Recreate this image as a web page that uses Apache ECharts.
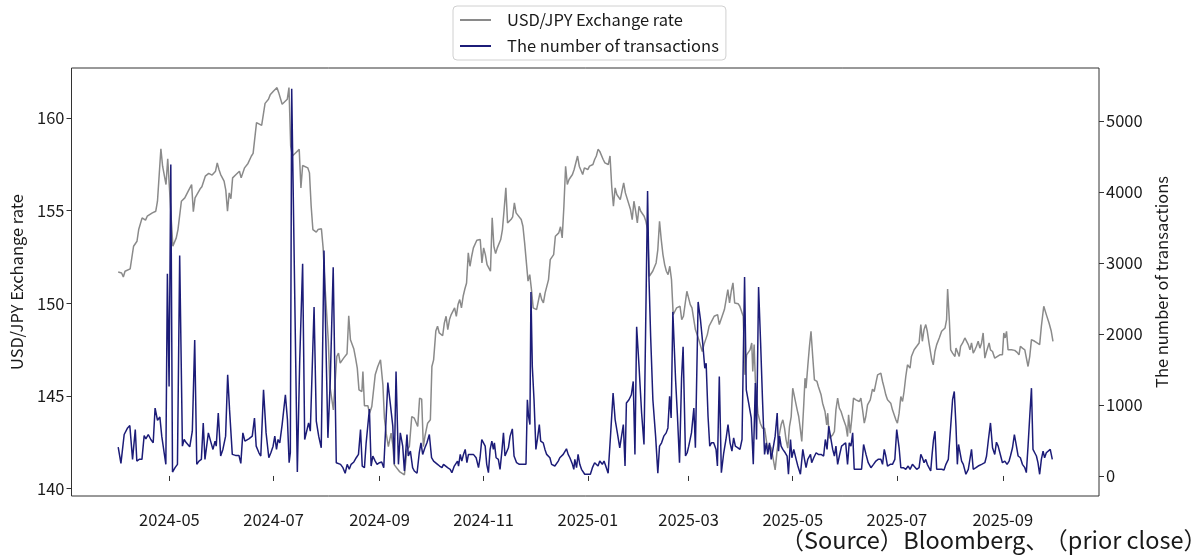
<!DOCTYPE html>
<html>
<head>
<meta charset="utf-8">
<script src="https://cdn.jsdelivr.net/npm/echarts@6/dist/echarts.min.js"></script>
<style>
html,body{margin:0;padding:0;background:#fff;}
#chart{width:1204px;height:558px;}
</style>
</head>
<body>
<div id="chart"></div>
<script>
// Day offsets are counted from 2024-04-01 (calendar days).
const baseDate = '2024-04-01';
const seriesNames = ['USD/JPY Exchange rate', 'The number of transactions'];
const monthTicks = ['2024-05-01','2024-07-01','2024-09-01','2024-11-01','2025-01-01','2025-03-01','2025-05-01','2025-07-01','2025-09-01'];
const rateTicks = [140, 145, 150, 155, 160];
const tradeTicks = [0, 1000, 2000, 3000, 4000, 5000];

// [day offset, USD/JPY rate]
const usdJpyRate = [
[0,151.69],[2,151.64],[3,151.42],[4,151.73],[7,151.86],[9,153.08],[11,153.35],[12,153.98],[14,154.61],[16,154.49],
[17,154.70],[20,154.88],[22,154.97],[23,155.51],[25,158.34],[26,157.40],[28,156.41],[29,157.80],[32,153.08],[34,153.53],
[35,153.98],[37,155.51],[39,155.69],[41,156.05],[43,156.41],[44,154.94],[45,155.69],[48,156.18],[49,156.29],[51,156.86],
[53,157.01],[55,156.92],[57,157.13],[58,157.58],[59,157.22],[60,156.95],[62,156.59],[63,156.11],[64,154.97],[65,155.96],
[66,155.64],[67,156.77],[69,156.95],[71,157.13],[72,156.77],[74,157.31],[76,157.55],[78,157.95],[79,158.09],[81,159.75],
[82,159.69],[84,159.60],[86,160.79],[88,161.01],[89,161.25],[91,161.46],[93,161.64],[94,161.37],[96,160.74],[97,160.77],
[99,161.01],[100,161.64],[101,158.49],[102,157.95],[104,158.13],[106,158.31],[107,156.23],[108,157.44],[109,157.49],[111,157.31],
[112,157.04],[113,155.24],[114,153.98],[116,153.84],[117,153.98],[119,154.02],[120,152.99],[121,151.10],[123,148.03],[124,145.51],
[126,144.25],[127,145.69],[128,147.13],[129,147.31],[130,146.77],[132,147.04],[133,146.95],[134,147.28],[135,149.33],[136,148.03],
[138,147.53],[139,147.04],[140,146.50],[141,145.33],[142.7,145.24],[143.3,146.32],[144.2,144.47],[146.2,144.47],[147.2,144.07],[148.5,144.43],
[150.5,146.14],[152,146.59],[153.6,146.95],[155,145.60],[155.9,143.80],[156.9,142.99],[158.2,142.27],[159.8,142.99],[160.8,142.36],[161.7,141.28],
[164.7,140.92],[167.6,140.74],[169.1,142.09],[170.5,142.27],[171.9,143.89],[173.4,143.80],[175.4,143.35],[176.5,144.88],[177.7,144.83],[178.7,142.27],
[179.6,142.81],[181.2,143.53],[182.8,143.71],[183.7,146.59],[184.7,146.95],[186,148.5],[187,148.76],[188,148.40],[190,148.25],[191,148.94],
[192,149.30],[193,148.58],[194,149.12],[195,149.39],[196,149.48],[197,149.75],[198,149.30],[199,149.93],[200,150.20],[201,149.75],
[202,150.38],[203,150.77],[204,151.10],[205,152.72],[206,152.00],[207,152.54],[208,152.99],[210,153.40],[212,153.44],[213,152.18],
[214,152.99],[215,152.63],[216,152.09],[218,151.73],[219,154.61],[220,153.08],[221,152.68],[222,152.99],[224,153.44],[225,153.98],
[226,155.06],[227,156.23],[228,154.34],[230,154.52],[231,154.67],[232,155.42],[233,154.88],[234,154.79],[236,154.52],[237,154.16],
[238,153.26],[240,151.20],[241,151.55],[242,150.74],[243,149.75],[245,149.66],[246,149.57],[247,150.56],[248,150.20],[249,150.02],
[250,150.56],[252,151.28],[253,152.36],[255,152.63],[256,153.62],[258,153.80],[259,154.13],[260,153.53],[261,155.24],[262,157.40],
[263,156.41],[264,156.68],[266,156.95],[267,157.22],[269,157.95],[270,157.40],[272,156.95],[273,157.31],[275,157.22],[276,157.40],
[278,157.49],[279,157.76],[280,157.95],[281,158.31],[282,158.2],[284,157.76],[285,157.58],[287,157.49],[288,157.95],[289,156.32],
[290,155.24],[291,156.23],[292,155.87],[294,155.60],[295,155.51],[296,156.50],[297,155.96],[298,155.87],[300,155.06],[301,154.52],
[302,155.51],[303,154.97],[304,154.34],[305,155.24],[306,154.97],[308,154.70],[309,154.43],[310,153.98],[311,151.46],[313,151.73],
[315,152.18],[316,152.90],[317,154.43],[318,153.44],[319,152.63],[320,152.09],[321,151.73],[322,151.55],[323,152.00],[324,151.28],
[325,149.39],[326,149.57],[327,149.75],[329,149.84],[330,149.12],[331,149.30],[333,150.65],[334,150.29],[335,149.93],[336,149.75],
[337,149.80],[338,148.58],[340,148.04],[341,147.95],[342,147.40],[343,147.77],[344,148.04],[345,148.31],[346,148.76],[348,149.12],
[349,149.30],[351,149.39],[352,148.85],[353,148.94],[355,149.66],[356,150.20],[357,150.74],[358,150.02],[359,150.65],[360,151.10],
[361,150.02],[362,149.93],[363,149.98],[364,149.84],[366,149.30],[367,146.14],[368,147.22],[370,147.49],[371,147.86],[371.6,146.32],
[372.4,147.77],[373.1,145.87],[374.6,144.07],[376,143.53],[377.3,143.26],[378.5,143.26],[380.2,142.20],[381.4,142.36],[382.4,142.18],[384,141.37],
[384.7,141.01],[385.9,142.09],[387.3,142.99],[388.2,143.44],[389.2,143.71],[390.2,143.26],[391.1,142.63],[392.1,142.18],[393.1,143.35],[394.1,143.89],
[395,145.42],[396.4,144.79],[397.6,144.25],[398.5,143.89],[399.5,143.17],[400.3,142.54],[401.5,144.61],[402.2,145.96],[402.8,145.42],[403.8,146.59],
[404.8,147.68],[405.7,148.49],[406.7,147.13],[407.7,145.87],[409.2,145.78],[410,145.51],[411.6,145.06],[412.5,144.61],[413.9,144.16],[414.9,143.44],
[415.5,144.07],[416.4,142.72],[417.4,142.81],[418.4,142.90],[419.4,143.08],[420.3,144.25],[421.3,144.88],[422.3,144.34],[423.3,144.16],[424.8,143.71],
[426.2,143.35],[427.1,142.81],[427.7,143.98],[428.7,142.99],[429.5,143.71],[430.6,144.88],[432,144.79],[433,144.88],[434,144.70],[434.9,144.88],
[435.9,144.25],[436.9,143.53],[437.8,143.89],[438.8,144.52],[440.4,144.79],[441.7,145.37],[442.7,145.24],[443.7,145.69],[444.7,146.14],[446.6,146.23],
[447.6,145.78],[448.6,145.42],[449.5,145.06],[450.5,144.79],[451.5,144.70],[452.4,144.61],[453.4,144.25],[454.4,143.98],[455.4,143.71],[456.3,143.53],
[457.3,144.07],[458.3,144.97],[459.3,144.70],[460.2,145.24],[461.2,146.05],[462.2,146.68],[463.7,146.50],[464.5,147.13],[466.1,147.49],[467.6,147.68],
[469,147.86],[470,148.85],[470.9,147.95],[471.9,148.58],[472.9,148.85],[473.8,148.49],[474.8,147.86],[475.6,147.40],[476.4,146.95],[477.3,146.68],
[478.3,147.40],[479.3,147.77],[480.8,148.13],[482.2,148.49],[483.2,148.58],[484.2,148.67],[485.1,149.12],[485.7,150.77],[486.7,149.12],[487.5,147.49],
[488.6,147.31],[490,147.13],[490.6,147.58],[491.4,147.40],[492.5,147.13],[493.3,147.68],[494.5,147.86],[495.8,148.13],[496.8,148.22],[497.8,147.77],
[498.8,147.49],[499.7,147.86],[500.7,147.31],[501.7,147.49],[502.6,147.68],[503.6,147.95],[504.6,147.58],[505.6,147.86],[506.5,148.40],[507.5,147.04],
[508.5,147.40],[510,147.86],[510.8,147.49],[512,147.40],[513.3,147.04],[514.3,147.13],[516.3,147.22],[517.8,147.22],[518.6,148.40],[519.4,148.13],
[520.2,148.49],[521.1,147.49],[523.1,147.49],[525,147.46],[526.4,147.35],[527.5,147.22],[528.3,147.68],[529.5,147.58],[530.9,147.49],[531.8,147.40],
[532.8,146.59],[533.8,147.13],[534.8,148.04],[536.7,147.95],[538.1,147.86],[539.6,147.77],[540.6,148.76],[542,149.84],[543.5,149.39],[545.1,148.94],
[546.4,148.49],[547.4,147.95]
];

// [day offset, number of transactions]
const transactions = [
[0,406],[1.6,178],[3.5,584],[5.5,677],[6.8,710],[8.4,234],[9.4,210],[10,654],[10.9,210],[12.3,234],
[13.9,234],[15.2,570],[16.2,523],[17.6,584],[19.1,514],[20.5,467],[21.6,957],[23,785],[24.4,831],[25.5,561],
[26.9,327],[27.9,164],[28.8,2848],[29.8,1261],[30.8,4388],[31.8,56],[33.3,117],[34.7,164],[36,3105],[37.6,420],
[38.6,514],[39.9,467],[41.9,411],[43.4,631],[44.8,1914],[46,164],[47.3,210],[48.7,234],[49.8,747],[50.8,234],
[52.8,607],[54.1,491],[55.5,374],[56.7,491],[57.4,420],[58.6,887],[60,281],[61.3,374],[62.9,561],[64.1,1424],
[65.2,934],[66.8,304],[68.7,290],[70.7,290],[71.8,178],[73,607],[74.2,491],[76.5,523],[78.5,561],[79.8,817],
[80.8,420],[82.4,327],[83.5,281],[85.1,1214],[86.6,607],[88.2,257],[89.4,327],[90.7,420],[91.7,561],[92.7,374],
[93.6,514],[94.6,467],[96,724],[97.9,1144],[99.1,794],[100.1,187],[100.8,327],[101.6,5453],[104.9,56],[106.3,1634],
[108,2988],[109.2,514],[110.6,654],[111.5,747],[112.5,631],[114.7,2381],[116,771],[117.4,561],[118.9,397],[120.5,3175],
[122.8,537],[124.2,1354],[125.9,2941],[127.7,187],[128.7,210],[130.2,164],[131.6,117],[132.9,38],[134.1,164],[135.3,94],
[136.4,164],[138,197],[139.4,257],[140.7,304],[141.9,654],[142.9,140],[144.2,117],[145.2,467],[147.1,943],[148.1,140],
[149.1,281],[150.5,210],[151.6,164],[153,187],[154.3,197],[155.5,117],[156.9,817],[157.9,1317],[159.4,1004],[160.8,701],
[161.7,164],[162.7,1471],[164.1,164],[165.2,607],[166.6,420],[167.6,70],[169.1,584],[169.9,281],[171.1,350],[172.4,117],
[173.4,70],[175,38],[176.3,327],[177.3,467],[178.3,304],[179.6,397],[180.8,467],[182.2,584],[183.5,257],[184.7,210],
[185.7,234],[187,164],[188.2,140],[189.6,117],[190.5,164],[191.5,140],[192.9,117],[194.4,94],[195.4,47],[196.8,140],
[197.9,164],[198.7,210],[199.3,140],[200.3,304],[201.2,210],[202.2,304],[203.2,374],[204.2,187],[205.1,304],[206.5,304],
[208,304],[209.6,257],[211,117],[211.9,257],[212.9,514],[213.9,537],[214.9,420],[215.8,164],[216.8,47],[217.8,374],
[218.8,491],[219.7,374],[220.3,467],[221.3,257],[222.6,234],[223.6,94],[224.6,327],[225.6,607],[226.5,281],[227.5,304],
[228.5,397],[229.5,561],[230.8,663],[231.8,281],[233.3,187],[234.9,164],[236.3,164],[237.6,164],[238.8,164],[239.6,1074],
[240.3,841],[241.1,724],[241.7,2591],[242.5,1541],[243.5,1074],[244.6,374],[245.6,537],[246.6,724],[247.4,491],[248.9,467],
[249.9,374],[250.9,304],[252.8,257],[253.8,164],[255.7,140],[257.7,210],[258.6,257],[260.6,304],[261.6,327],[262.5,383],
[263.5,304],[264.5,257],[266,164],[266.8,94],[267.4,234],[268.4,117],[269.3,304],[270.3,164],[271.3,94],[273.2,24],
[275.2,24],[276.5,24],[277.7,117],[279,187],[280,210],[281,140],[282,210],[282.9,187],[283.5,164],[284.5,210],
[285.5,140],[286.9,38],[288.4,607],[289.8,1167],[291,794],[292.3,607],[293.7,397],[294.8,374],[295.8,724],[296.8,140],
[297.6,1027],[299.1,1074],[300.5,1144],[301.6,1331],[302.6,304],[303.6,2101],[305,1541],[306.5,887],[307.9,444],[310,4015],
[310.8,2801],[311.8,1961],[313.1,1074],[314.7,561],[316,38],[317,420],[318.2,467],[319.5,561],[320.9,607],[321.9,677],
[322.9,1121],[323.8,817],[324.8,2311],[326.4,1354],[327.5,841],[328.7,187],[329.9,1377],[330.8,1821],[332.2,281],[333.2,327],
[334.1,420],[335.7,607],[337.1,957],[338,397],[339.6,2451],[341,2194],[342.3,1868],[343.5,1518],[344.3,1587],[345.4,841],
[346.4,420],[347.4,467],[348.7,467],[350.1,374],[350.9,140],[352,1401],[353.2,47],[354.6,327],[355.9,514],[357.1,724],
[358.3,467],[359.4,350],[360.4,537],[361.4,420],[362.9,397],[364.1,374],[365.3,514],[366.1,491],[366.8,2801],[367.8,1214],
[369.2,1027],[370.7,817],[371.9,164],[373.1,1308],[373.8,514],[375,2661],[376.2,1868],[377.3,1074],[378.5,304],[379.5,467],
[380.4,304],[381.4,467],[382.4,234],[383.4,374],[384.7,561],[385.9,887],[386.7,350],[387.3,561],[388.2,420],[389.2,374],
[390.6,327],[391.7,281],[392.5,24],[393.7,514],[394.5,257],[395.6,374],[397,234],[398,140],[399.5,24],[400.9,374],
[401.9,234],[402.8,117],[403.8,234],[405.4,304],[406.1,187],[407.3,257],[408.7,327],[410,304],[411.6,304],[413.1,281],
[414.1,514],[415.1,374],[416.1,701],[417.4,514],[418.4,374],[419.4,281],[420.3,420],[421.3,164],[422.3,281],[423.6,420],
[424.8,444],[426,467],[427.1,164],[428.1,467],[429.1,420],[430.1,607],[431,94],[432.6,94],[434,94],[435.3,94],
[436.5,444],[437.9,304],[439.2,187],[440.8,117],[442.3,164],[443.7,210],[445,234],[446.6,234],[447.6,164],[448.6,374],
[449.5,281],[450.5,140],[452.1,164],[453.4,164],[454.8,234],[455.9,654],[457.3,397],[458.3,117],[459.8,117],[461.2,94],
[462.6,140],[463.7,94],[465.1,164],[466.1,140],[467.6,94],[469,117],[470,304],[470.9,257],[471.9,187],[472.9,234],
[473.8,164],[474.8,140],[475.8,70],[476.6,300],[477.4,500],[478.3,631],[479.3,94],[480.8,94],[482.2,94],[483.6,84],
[484.7,164],[486.1,234],[487.5,701],[488.6,1074],[489.6,1191],[490.6,701],[491.4,164],[492.1,444],[492.9,467],[493.9,210],
[494.9,164],[496.4,24],[497.8,94],[498.8,117],[499.7,374],[500.7,94],[502.3,117],[503.6,140],[504.6,117],[505.6,164],
[506.5,140],[507.5,187],[508.5,281],[509.6,514],[510.8,747],[512,397],[513.3,304],[514.3,476],[515.3,420],[516.3,327],
[517.8,187],[519.2,210],[520.5,164],[521.7,210],[522.5,281],[523.7,397],[524.8,584],[526,420],[527,281],[528.3,257],
[529.5,164],[530.9,117],[531.8,47],[532.8,420],[533.8,841],[534.8,1237],[535.7,374],[536.7,327],[537.7,281],[538.6,187],
[539.6,24],[540.6,234],[541.6,350],[542.5,257],[543.5,327],[544.5,304],[545.8,374],[547,234]
];

const DAY = 86400000;
const base = Date.parse(baseDate);
const toTime = d => base + d * DAY;
const rateData = usdJpyRate.map(p => [toTime(p[0]), p[1]]);
const tradeData = transactions.map(p => [toTime(p[0]), p[1]]);
const tickTimes = monthTicks.map(s => Date.parse(s));

const FONT = '"Noto Sans CJK JP", "Noto Sans", sans-serif';
const TXT = '#1a1a1a';
const FRAME = '#333333';

const chart = echarts.init(document.getElementById('chart'), null, {renderer: 'canvas'});
chart.setOption({
  animation: false,
  backgroundColor: '#ffffff',
  textStyle: {fontFamily: FONT, color: TXT},
  grid: {left: 69, right: 105, top: 68, bottom: 62, show: true, borderColor: FRAME, borderWidth: 1, backgroundColor: 'transparent'},
  legend: {
    data: seriesNames,
    orient: 'vertical',
    left: 453, top: 6,
    padding: [5, 7, 5, 7],
    itemGap: 8,
    itemWidth: 31, itemHeight: 2,
    icon: 'rect',
    backgroundColor: '#ffffff',
    borderColor: '#d0d0d0', borderWidth: 1, borderRadius: 4,
    textStyle: {fontFamily: FONT, fontSize: 16.5, color: TXT, lineHeight: 18, padding: [0, 0, 0, 11]}
  },
  xAxis: {
    type: 'value',
    min: toTime(-27.35), max: toTime(574.35),
    axisLine: {show: false},
    splitLine: {show: false},
    axisTick: {show: true, customValues: tickTimes, length: 5, lineStyle: {color: FRAME}},
    axisLabel: {
      customValues: tickTimes, margin: 15, fontSize: 16.5, color: TXT, fontFamily: FONT,
      formatter: v => { const d = new Date(v); return d.getUTCFullYear() + '-' + String(d.getUTCMonth() + 1).padStart(2, '0'); }
    }
  },
  yAxis: [
    {
      type: 'value', position: 'left', min: 139.6, max: 162.7,
      name: seriesNames[0], nameLocation: 'middle', nameGap: 47,
      nameTextStyle: {fontSize: 16.5, color: TXT, fontFamily: FONT},
      axisLine: {show: false}, splitLine: {show: false},
      axisTick: {show: true, customValues: rateTicks, length: 5, lineStyle: {color: FRAME}},
      axisLabel: {customValues: rateTicks, margin: 7, fontSize: 16.5, color: TXT, fontFamily: FONT}
    },
    {
      type: 'value', position: 'right', min: -282, max: 5746,
      name: seriesNames[1], nameLocation: 'middle', nameGap: 50,
      nameTextStyle: {fontSize: 16.5, color: TXT, fontFamily: FONT},
      axisLine: {show: false}, splitLine: {show: false},
      axisTick: {show: true, customValues: tradeTicks, length: 5, lineStyle: {color: FRAME}},
      axisLabel: {customValues: tradeTicks, margin: 7, fontSize: 16.5, color: TXT, fontFamily: FONT, formatter: v => String(Math.round(v))}
    }
  ],
  series: [
    {
      name: seriesNames[0], type: 'line', yAxisIndex: 0, data: rateData,
      showSymbol: false, symbol: 'none', color: '#8a8a8a',
      lineStyle: {width: 1.5, color: '#8a8a8a'}
    },
    {
      name: seriesNames[1], type: 'line', yAxisIndex: 1, data: tradeData,
      showSymbol: false, symbol: 'none', color: '#1c1c78',
      lineStyle: {width: 1.5, color: '#1c1c78'}
    }
  ],
  graphic: [{
    type: 'text', right: -3, top: 528,
    style: {
      text: '（Source）Bloomberg{c|、}（prior close）',
      fontSize: 23.5, fontFamily: FONT, fill: TXT,
      rich: {c: {width: 19, fontSize: 23.5, fontFamily: FONT}}
    }
  }]
});
</script>
</body>
</html>
